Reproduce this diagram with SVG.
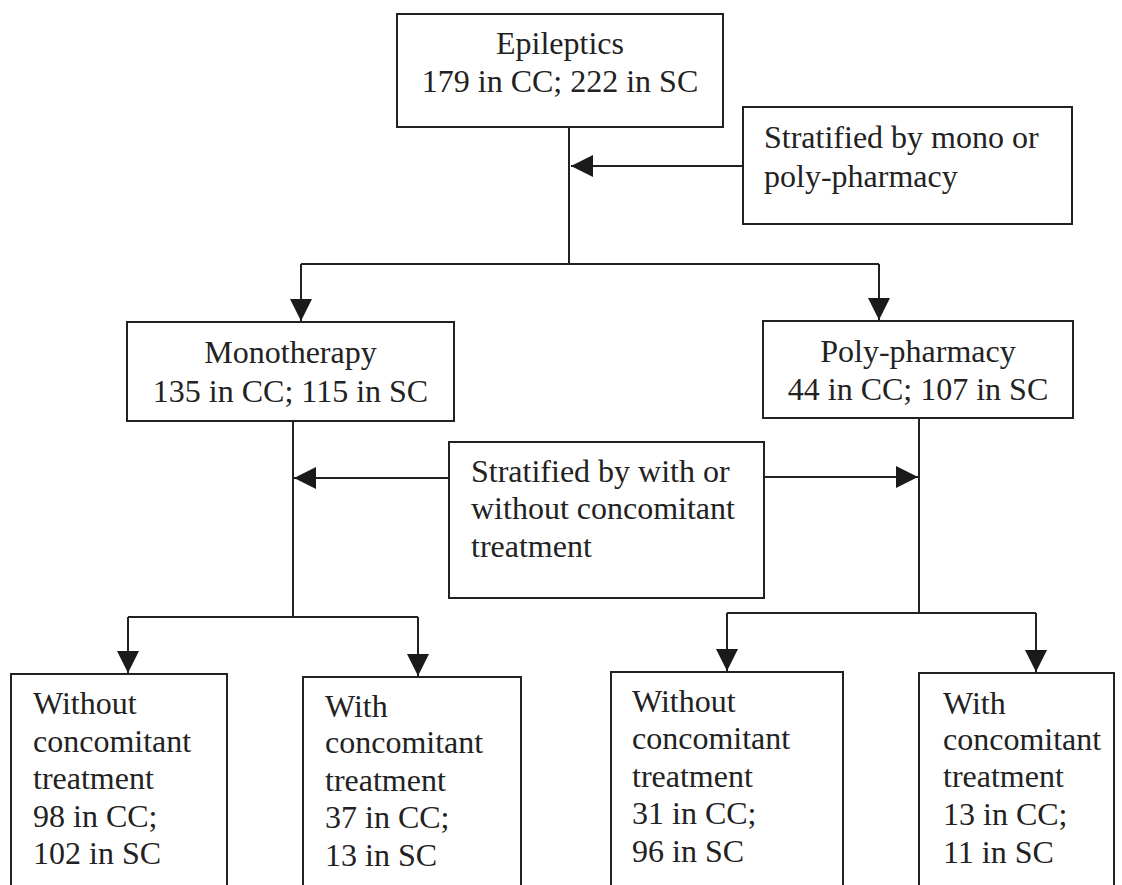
<svg xmlns="http://www.w3.org/2000/svg" width="1122" height="885" viewBox="0 0 1122 885">
<style>
.box{fill:#fff;stroke:#222;stroke-width:2}
.t{font-family:"Liberation Serif","Times New Roman",serif;font-size:32px;fill:#222}
.c{text-anchor:middle}
.ln{fill:none;stroke:#222;stroke-width:2}
</style>
<defs>
<marker id="ah" markerUnits="userSpaceOnUse" markerWidth="22" markerHeight="22" viewBox="0 0 20 20" refX="20" refY="10" orient="auto">
<path d="M0,0 L20,10 L0,20 z" fill="#1a1a1a"/>
</marker>
</defs>
<rect width="1122" height="885" fill="#fff"/>
<g id="connectors">
<path class="ln" d="M569,127 V264"/>
<path class="ln" d="M743,166 H571" marker-end="url(#ah)"/>
<path class="ln" d="M301,264 H879"/>
<path class="ln" d="M301,264 V321" marker-end="url(#ah)"/>
<path class="ln" d="M879,264 V320" marker-end="url(#ah)"/>
<path class="ln" d="M293,421 V617"/>
<path class="ln" d="M919,418 V613"/>
<path class="ln" d="M449,478 H294" marker-end="url(#ah)"/>
<path class="ln" d="M764,477 H918" marker-end="url(#ah)"/>
<path class="ln" d="M128,617 H418"/>
<path class="ln" d="M128,617 V673" marker-end="url(#ah)"/>
<path class="ln" d="M418,617 V676" marker-end="url(#ah)"/>
<path class="ln" d="M727,613 H1036"/>
<path class="ln" d="M727,613 V671" marker-end="url(#ah)"/>
<path class="ln" d="M1036,613 V672" marker-end="url(#ah)"/>
</g>
<g id="epileptics">
<rect class="box" x="397" y="14" width="326" height="113"/>
<text class="t c" x="560" y="54">Epileptics</text>
<text class="t c" x="560" y="92">179 in CC; 222 in SC</text>
</g>
<g id="strat1">
<rect class="box" x="743" y="107" width="329" height="117"/>
<text class="t" x="764" y="148">Stratified by mono or</text>
<text class="t" x="764" y="187">poly-pharmacy</text>
</g>
<g id="mono">
<rect class="box" x="127" y="322" width="327" height="99"/>
<text class="t c" x="290.5" y="363">Monotherapy</text>
<text class="t c" x="290.5" y="402">135 in CC; 115 in SC</text>
</g>
<g id="poly">
<rect class="box" x="763" y="321" width="310" height="97"/>
<text class="t c" x="918" y="362">Poly-pharmacy</text>
<text class="t c" x="918" y="400">44 in CC; 107 in SC</text>
</g>
<g id="strat2">
<rect class="box" x="449" y="442" width="315" height="156"/>
<text class="t" x="471" y="482">Stratified by with or</text>
<text class="t" x="471" y="519">without concomitant</text>
<text class="t" x="471" y="557">treatment</text>
</g>
<g id="mono-without">
<rect class="box" x="11" y="674" width="216" height="230"/>
<text class="t" x="33" y="714">Without</text>
<text class="t" x="33" y="752">concomitant</text>
<text class="t" x="33" y="789">treatment</text>
<text class="t" x="33" y="827">98 in CC;</text>
<text class="t" x="33" y="864">102 in SC</text>
</g>
<g id="mono-with">
<rect class="box" x="303" y="677" width="218" height="230"/>
<text class="t" x="325" y="717">With</text>
<text class="t" x="325" y="753">concomitant</text>
<text class="t" x="325" y="791">treatment</text>
<text class="t" x="325" y="828">37 in CC;</text>
<text class="t" x="325" y="866">13 in SC</text>
</g>
<g id="poly-without">
<rect class="box" x="611" y="672" width="232" height="230"/>
<text class="t" x="632" y="712">Without</text>
<text class="t" x="632" y="749">concomitant</text>
<text class="t" x="632" y="787">treatment</text>
<text class="t" x="632" y="824">31 in CC;</text>
<text class="t" x="632" y="862">96 in SC</text>
</g>
<g id="poly-with">
<rect class="box" x="919" y="673" width="195" height="230"/>
<text class="t" x="943" y="714">With</text>
<text class="t" x="943" y="750">concomitant</text>
<text class="t" x="943" y="787">treatment</text>
<text class="t" x="943" y="825">13 in CC;</text>
<text class="t" x="943" y="863">11 in SC</text>
</g>
</svg>
